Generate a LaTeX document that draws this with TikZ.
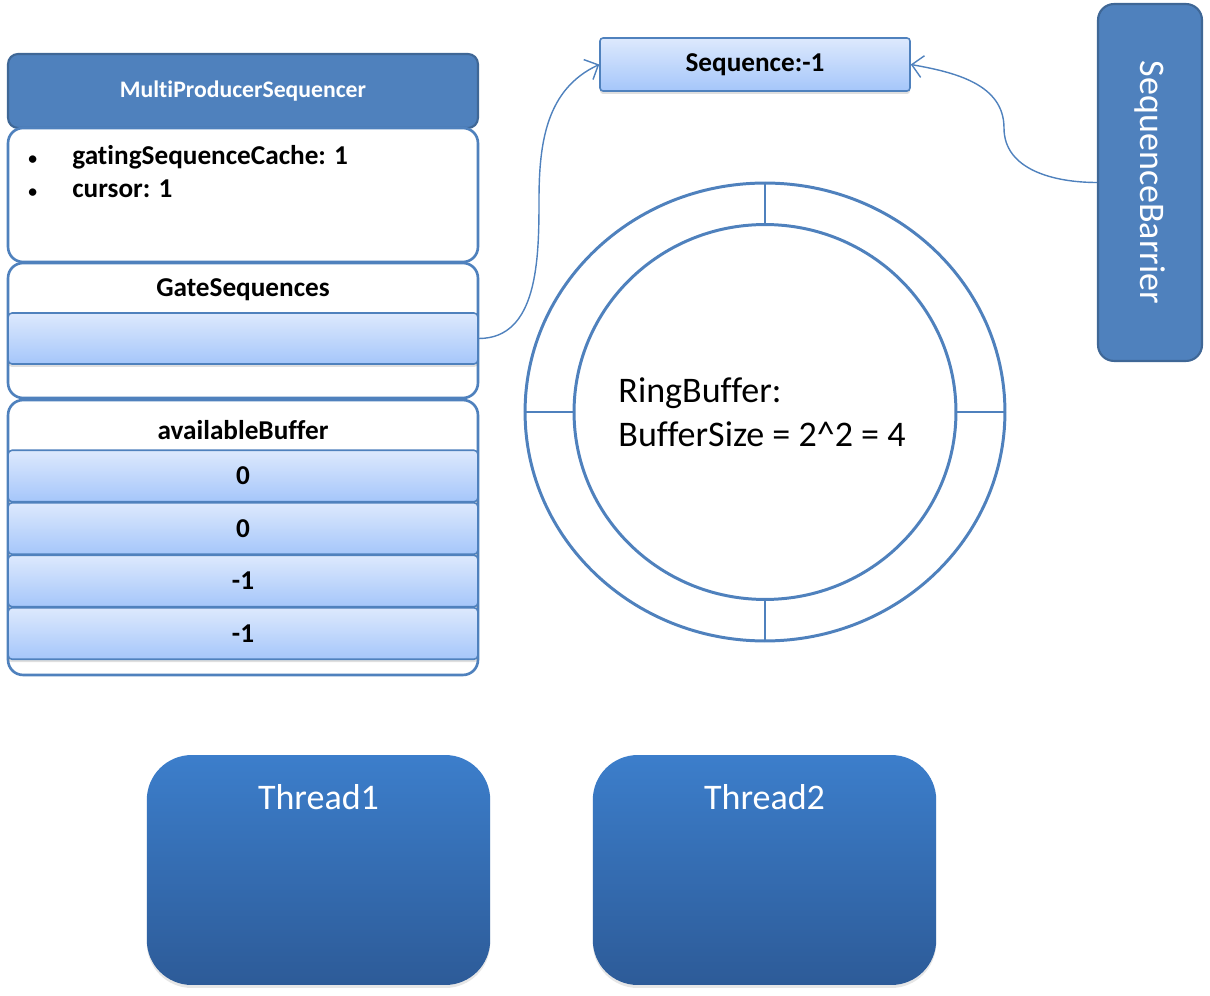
\documentclass[tikz,border=0pt]{standalone}
\usepackage{fontspec}
\setmainfont[Ligatures={NoCommon}]{Carlito}
\usetikzlibrary{positioning}
\usetikzlibrary{shadows}
\usetikzlibrary{arrows.meta}
\usetikzlibrary{shapes.geometric}

\definecolor{officeBlue}{HTML}{4F81BD}
\definecolor{officeDark}{HTML}{3F6796}
\definecolor{barTop}{HTML}{DDE9FD}
\definecolor{barBottom}{HTML}{A5C6FA}
\definecolor{threadTop}{HTML}{3C7ECB}
\definecolor{threadBottom}{HTML}{2D5B98}

\begin{document}
\begin{tikzpicture}[x=0.02cm, y=-0.02cm]

  \tikzstyle{header}=[rectangle, rounded corners=0.2cm, fill=officeBlue, draw=officeDark, line width=1.2pt, minimum width=9.4cm, minimum height=1.48cm, text=white, font=\bfseries\fontsize{13.5}{16}\selectfont]
  \tikzstyle{panel}=[rectangle, rounded corners=0.3cm, fill=white, draw=officeBlue, line width=1.5pt, minimum width=9.4cm]
  \tikzstyle{cell}=[rectangle, rounded corners=0.08cm, top color=barTop, bottom color=barBottom, draw=officeBlue, line width=0.9pt, minimum width=9.4cm, minimum height=1.03cm, font=\bfseries\fontsize{15.5}{18}\selectfont, drop shadow={shadow xshift=0pt, shadow yshift=-0.06cm, opacity=0.25}]
  \tikzstyle{title}=[font=\bfseries\fontsize{15.5}{18}\selectfont]
  \tikzstyle{big}=[font=\fontsize{20.5}{25}\selectfont]
  \tikzstyle{thread}=[rectangle, rounded corners=0.9cm, top color=threadTop, bottom color=threadBottom, draw=none, minimum width=6.87cm, minimum height=4.6cm, drop shadow={shadow xshift=0pt, shadow yshift=-0.06cm, opacity=0.2}]
  \tikzstyle{ring}=[ellipse, draw=officeBlue, line width=1.7pt]
  \tikzstyle{tick}=[draw=officeBlue, line width=0.9pt]
  \tikzstyle{connect}=[-{Straight Barb[length=2.2mm, width=4.4mm]}, draw=officeBlue, line width=0.8pt]
  \newcommand{\smallbullet}{\makebox[0.94cm][l]{\hspace{0.06cm}\fontsize{10}{10}\selectfont\textbullet}}

  \useasboundingbox (0,0) rectangle (1210,996);

  % MultiProducerSequencer
  \node[header] (msHead) at (243,91) {MultiProducerSequencer};
  \node[panel, minimum height=2.68cm] (msFields) at (243,195) {};
  \node[title, anchor=base west, inner sep=0] (fieldCache) at (25,165) {\smallbullet gatingSequenceCache: 1};
  \node[title, anchor=base west, inner sep=0] (fieldCursor) at (25,198) {\smallbullet cursor: 1};

  \node[panel, minimum height=2.7cm] (gateBox) at (243,330.5) {};
  \node[title] (gateTitle) at (243,290) {GateSequences};
  \node[cell, minimum height=1.02cm] (gateBar) at (243,338.5) {};

  \node[panel, minimum height=5.5cm] (availBox) at (243,537.5) {};
  \node[title] (availTitle) at (243,430) {availableBuffer};
  \foreach \val [count=\i] in {0,0,-1,-1}
    \node[cell] (availBar\i) at (243,{423.5+52.5*\i}) {\val};

  % sequence and barrier
  \node[cell, rounded corners=0.06cm, minimum width=6.2cm, minimum height=1.06cm] (seqNode) at (755,64.5) {Sequence:-1};
  \node[rectangle, rounded corners=0.32cm, fill=officeBlue, draw=officeDark, line width=1.2pt, minimum width=2.08cm, minimum height=7.14cm] (barrier) at (1150,182.5) {};
  \node[big, text=white, rotate=-90] (barrierText) at (barrier.center) {SequenceBarrier};

  % ring buffer
  \node[ring, minimum width=9.6cm, minimum height=9.16cm] (ringOuter) at (765,412) {};
  \node[ring, minimum width=7.64cm, minimum height=7.5cm] (ringInner) at (765,412) {};
  \node[big, align=left] (ringText) at (762,412) {RingBuffer:\\BufferSize = 2\^{}2 = 4};
  \foreach \side in {north, south, east, west}
    \draw[tick] (ringOuter.\side) -- (ringInner.\side);

  % threads
  \node[thread] (thread1) at (318.5,870) {};
  \node[big, text=white] (thread1Label) at ([yshift=-0.84cm]thread1.north) {Thread1};
  \node[thread] (thread2) at (764.5,870) {};
  \node[big, text=white] (thread2Label) at ([yshift=-0.84cm]thread2.north) {Thread2};

  \coordinate (gateBend) at (539,200);
  \coordinate (barrierBend) at (1004,128);
  \draw[connect] (gateBar.east) to[out=0, in=-90] (gateBend) to[out=90, in=-155] (seqNode.west);
  \draw[connect] (barrier.west) to[out=180, in=-90] (barrierBend) to[out=90, in=-10] (seqNode.east);

\end{tikzpicture}
\end{document}
